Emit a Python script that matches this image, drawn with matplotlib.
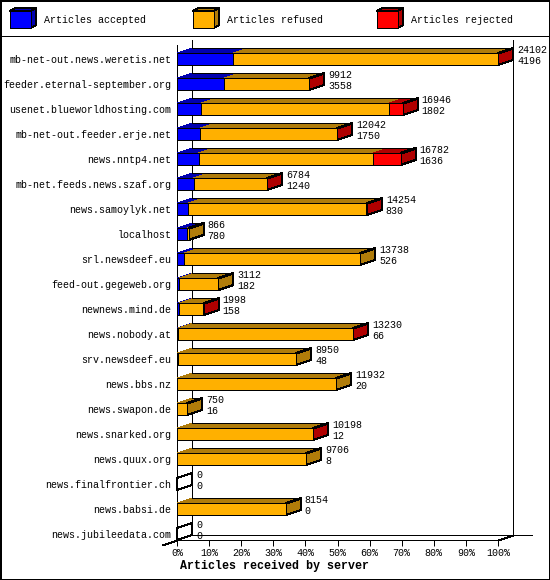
import matplotlib
matplotlib.use("Agg")
import matplotlib.pyplot as plt
from matplotlib.patches import Polygon, Rectangle

servers = ["mb-net-out.news.weretis.net", "feeder.eternal-september.org",
           "usenet.blueworldhosting.com", "mb-net-out.feeder.erje.net",
           "news.nntp4.net", "mb-net.feeds.news.szaf.org", "news.samoylyk.net",
           "localhost", "srl.newsdeef.eu", "feed-out.gegeweb.org",
           "newnews.mind.de", "news.nobody.at", "srv.newsdeef.eu", "news.bbs.nz",
           "news.swapon.de", "news.snarked.org", "news.quux.org",
           "news.finalfrontier.ch", "news.babsi.de", "news.jubileedata.com"]
offered = [24102, 9912, 16946, 12042, 16782, 6784, 14254, 866, 13738, 3112,
           1998, 13230, 8950, 11932, 750, 10198, 9706, 0, 8154, 0]
accepted = [4196, 3558, 1802, 1750, 1636, 1240, 830, 780, 526, 182,
            158, 66, 48, 20, 16, 12, 8, 0, 0, 0]
# rejected is not printed on the chart, read off the red parts
rejected = [30, 20, 1010, 20, 2060, 20, 30, 0, 0, 0,
            20, 20, 0, 0, 0, 20, 0, 0, 0, 0]
refused = [o - a - r for o, a, r in zip(offered, accepted, rejected)]

legend_labels = ["Articles accepted", "Articles refused", "Articles rejected"]
front_colors = ["#0000ff", "#ffb000", "#ff0000"]
top_colors = ["#0000b0", "#b07c0a", "#b00000"]
pct_ticks = list(range(0, 101, 10))

W, H = 550, 580
LEFT, RIGHT, BOTTOM, TOP = 177, 498, 540, 45
ROW = 25
BAR = 12
PX = 100 / (RIGHT - LEFT)   # percent per pixel
DX, DY = 15 * PX, 5 / ROW   # depth of the fake 3d
LW = 0.72

plt.rcParams["font.family"] = ["Liberation Mono", "DejaVu Sans Mono"]
plt.rcParams["font.size"] = 7.2

fig = plt.figure(figsize=(W / 100, H / 100), dpi=100, facecolor="white")

# page furniture in pixel coords: frame, legend, title
bg = fig.add_axes([0, 0, 1, 1])
bg.set_xlim(0, W)
bg.set_ylim(H, 0)
bg.axis("off")
bg.add_patch(Rectangle((0.5, 0.5), W - 1, H - 1, fc="none", ec="black", lw=1.4, antialiased=False))
bg.plot([0, W], [35.5, 35.5], color="black", lw=LW, antialiased=False)
for lx, label, fc, tc in zip([10, 193, 377], legend_labels, front_colors, top_colors):
    bg.add_patch(Polygon([(lx, 11), (lx + 5, 8), (lx + 26, 8), (lx + 21, 11)], fc=tc, ec="black", lw=LW, antialiased=False))
    bg.add_patch(Polygon([(lx + 21, 11), (lx + 26, 8), (lx + 26, 25), (lx + 21, 28)], fc=tc, ec="black", lw=LW, antialiased=False))
    bg.add_patch(Rectangle((lx, 11), 21, 17, fc=fc, ec="black", lw=LW, antialiased=False))
    bg.text(lx + 34, 20, label, ha="left", va="center")
bg.text(274, 566.5, "Articles received by server", ha="center", va="center",
        fontsize=8.4, fontweight="bold")

# chart axes sit on the front plane, x in percent of the biggest server
ax = fig.add_axes([LEFT / W, 1 - BOTTOM / H, (RIGHT - LEFT) / W, (BOTTOM - TOP) / H])
ax.set_xlim(0, 100)
ax.set_ylim((BOTTOM - 59) / ROW, (TOP - 59) / ROW)
ax.patch.set_alpha(0)
for s in ax.spines.values():
    s.set_visible(False)
ax.set_yticks(range(len(servers)))
ax.set_yticklabels(servers)
ax.tick_params(axis="y", length=0, pad=4.0)
ax.set_xticks(pct_ticks)
ax.set_xticklabels([f"{p}%" for p in pct_ticks])
ax.tick_params(axis="x", length=4.3, width=LW, pad=1.5)

ymax = ax.get_ylim()[0]
ymin = ax.get_ylim()[1]
line = dict(color="black", lw=LW, clip_on=False, antialiased=False, solid_capstyle="butt", snap=True)
ax.plot([0, 0], [ymax, ymin], **line)
ax.plot([DX, DX], [ymax - DY, ymin - DY], **line)
ax.plot([100 + DX, 100 + DX], [ymax - DY, ymin - DY], **line)
ax.plot([0, 100], [ymax, ymax], **line)
ax.plot([DX, 100 + 34 * PX], [ymax - DY, ymax - DY], **line)
ax.plot([-DX, 0], [ymax + DY, ymax], **line)
ax.plot([100, 100 + DX], [ymax, ymax - DY], **line)

half = BAR / ROW / 2
poly = dict(ec="none", antialiased=False, clip_on=False)
for i, total in enumerate(offered):
    left = 0.0
    end = total * 100 / offered[0]
    # top faces without outline so the colours step into each other
    for val, fc, tc in zip([accepted[i], refused[i], rejected[i]], front_colors, top_colors):
        w = val * 100 / offered[0]
        if w > 0:
            ax.add_patch(Polygon([(left, i - half), (left + w, i - half),
                                  (left + w + DX, i - half - DY), (left + DX, i - half - DY)],
                                 fc=tc, zorder=3, **poly))
            ax.barh(i, w, height=BAR / ROW, left=left, color=fc, edgecolor="black",
                    linewidth=LW, antialiased=False, zorder=4, clip_on=False)
        left += w
    side = top_colors[0]
    if rejected[i] > 0:
        side = top_colors[2]
    elif refused[i] > 0:
        side = top_colors[1]
    ax.add_patch(Polygon([(end, i - half), (end + DX, i - half - DY),
                          (end + DX, i + half - DY), (end, i + half)],
                         fc=side if total else "none", ec="black", lw=LW,
                         antialiased=False, clip_on=False, zorder=3))
    if total:
        ax.plot([0, end, end + DX, 0 + DX], [i - half, i - half, i - half - DY, i - half - DY],
                zorder=5, **line)
    tx = end + DX + 4 * PX
    ax.text(tx, i - 9 / ROW, str(total), ha="left", va="center", zorder=6, clip_on=False)
    ax.text(tx, i + 2 / ROW, str(accepted[i]), ha="left", va="center", zorder=6, clip_on=False)

fig.savefig("out.png", dpi=100)
plt.close(fig)
